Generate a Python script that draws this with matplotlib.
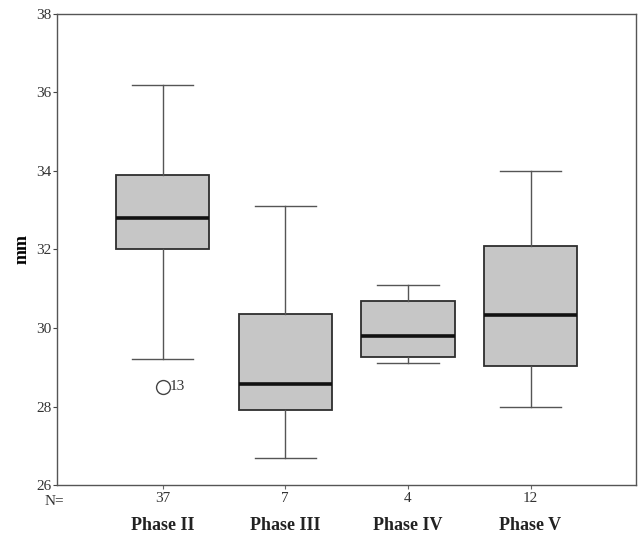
import numpy as np
import matplotlib.pyplot as plt
import matplotlib.transforms as mtransforms

# box statistics per phase (mm)
phases = ['Phase II', 'Phase III', 'Phase IV', 'Phase V']
counts = [37, 7, 4, 12]
whisker_low = [29.2, 26.7, 29.1, 28.0]
q1 = [32.0, 27.9, 29.25, 29.03]
median = [32.8, 28.57, 29.8, 30.33]
q3 = [33.9, 30.35, 30.7, 32.1]
whisker_high = [36.2, 33.1, 31.1, 34.0]
outliers = [[28.5], [], [], []]
outlier_ids = [['13'], [], [], []]

plt.rcParams['font.family'] = ['Liberation Serif', 'DejaVu Serif']

stats = []
for i in range(len(phases)):
    stats.append(dict(label=str(counts[i]), whislo=whisker_low[i], q1=q1[i],
                      med=median[i], q3=q3[i], whishi=whisker_high[i],
                      fliers=outliers[i]))

fig = plt.figure(figsize=(6.42, 5.38), dpi=100)
ax = fig.add_axes([0.089, 0.0985, 0.9017, 0.8755])

pos = np.arange(1, len(phases) + 1)
ax.bxp(stats, positions=pos, widths=0.76, patch_artist=True,
       boxprops=dict(facecolor='#c6c6c6', edgecolor='#2e2e2e', linewidth=1.3),
       medianprops=dict(color='#111111', linewidth=2.6),
       whiskerprops=dict(color='#555555', linewidth=1.0),
       capprops=dict(color='#555555', linewidth=1.0),
       capwidths=0.5,
       flierprops=dict(marker='o', markersize=10, markerfacecolor='none',
                       markeredgecolor='#444444', markeredgewidth=1.0))

for i, ids in enumerate(outlier_ids):
    for v, name in zip(outliers[i], ids):
        ax.text(pos[i] + 0.06, v, name, fontsize=11, va='center', ha='left',
                color='#333333')

ax.set_xlim(0.14, 4.86)
ax.set_ylim(26, 38)
ax.set_yticks(np.arange(26, 39, 2))
ax.tick_params(axis='y', direction='out', length=3, labelsize=11,
               colors='#444444', labelcolor='#333333', pad=1)
ax.tick_params(axis='x', direction='out', length=3, labelsize=11,
               colors='#666666', labelcolor='#333333', pad=2)
for s in ax.spines.values():
    s.set_color('#555555')
    s.set_linewidth(1.0)

ax.set_ylabel('mm', fontsize=13, fontweight='bold', labelpad=4)

trans = mtransforms.blended_transform_factory(ax.transData, ax.transAxes)
ax.text(-0.005, -0.035, 'N=', transform=ax.transAxes, ha='center', va='center',
        fontsize=11, color='#333333')
for p, name in zip(pos, phases):
    ax.text(p, -0.085, name, transform=trans, ha='center', va='center',
            fontsize=13, fontweight='bold', color='#222222')

fig.savefig('out.png', dpi=100)
